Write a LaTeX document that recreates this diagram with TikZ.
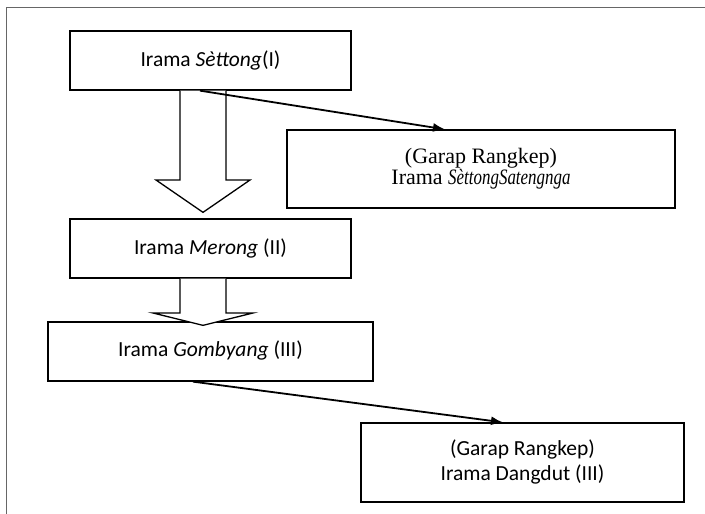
\documentclass[tikz,border=0pt]{standalone}
\usepackage{fontspec}
\setmainfont{Carlito}
\newfontfamily\garafont{Liberation Serif}
\usetikzlibrary{arrows.meta,calc,positioning}

\begin{document}
\begin{tikzpicture}[x=1pt, y=-1pt,
    box/.style={rectangle, draw, line width=1.3pt, inner sep=0pt, align=center, font=\fontsize{21.5}{25}\selectfont},
    serifbox/.style={box, font=\garafont\fontsize{22}{19}\selectfont},
    blockarrow/.style={draw, line width=1.3pt, fill=white, line join=miter},
    arrow/.style={-{Latex[length=12pt,width=9pt]}, line width=1.8pt}
]
\useasboundingbox (0,0) rectangle (705,514);

% Frame
\draw[line width=1pt, black!60] (6,514) -- (6,7) -- (705,7);

% Irama Settong
\node[box, minimum width=281pt, minimum height=59pt] (settong) at (210.5,60.5) {\raisebox{1pt}{Irama \textit{Sèttong}(I)}};

% Irama Merong
\node[box, minimum width=281pt, minimum height=59pt] (merong) at (210.5,248.5) {\raisebox{3pt}{Irama \textit{Merong} (II)}};
\draw[blockarrow] (180,0 |- settong.south) -- (180,180) -- (156,180) -- ($(203,0 |- merong.north)+(0,-6)$)
    -- (250,180) -- (226,180) -- (226,0 |- settong.south);

% Garap Rangkep, Settong Satengnga
\node[serifbox, minimum width=388pt, minimum height=78pt] (garapone) at (481,169) {(Garap Rangkep)\\Irama \scalebox{0.77}[1]{\textit{SèttongSatengnga}}};
\draw[arrow] ($(settong.south)+(-10.5,0)$) -- ($(garapone.north)+(-36,0)$);

% Irama Gombyang
\node[box, minimum width=325pt, minimum height=59pt] (gombyang) at (210.5,351.5) {\raisebox{6pt}{Irama \textit{Gombyang} (III)}};
\draw[blockarrow] (180,0 |- merong.south) -- (180,313) -- (153,313) -- ($(203,0 |- gombyang.north)+(0,4)$)
    -- (253,313) -- (226,313) -- (226,0 |- merong.south);

% Garap Rangkep, Dangdut
\node[box, minimum width=323pt, minimum height=79pt] (dangdut) at (522.5,462.5) {\raisebox{-5pt}{\begin{tabular}{@{}c@{}}(Garap Rangkep)\\Irama Dangdut (III)\end{tabular}}};
\draw[arrow] ($(gombyang.south)+(-17.5,0)$) -- ($(dangdut.north)+(-19.5,0)$);

\end{tikzpicture}
\end{document}
